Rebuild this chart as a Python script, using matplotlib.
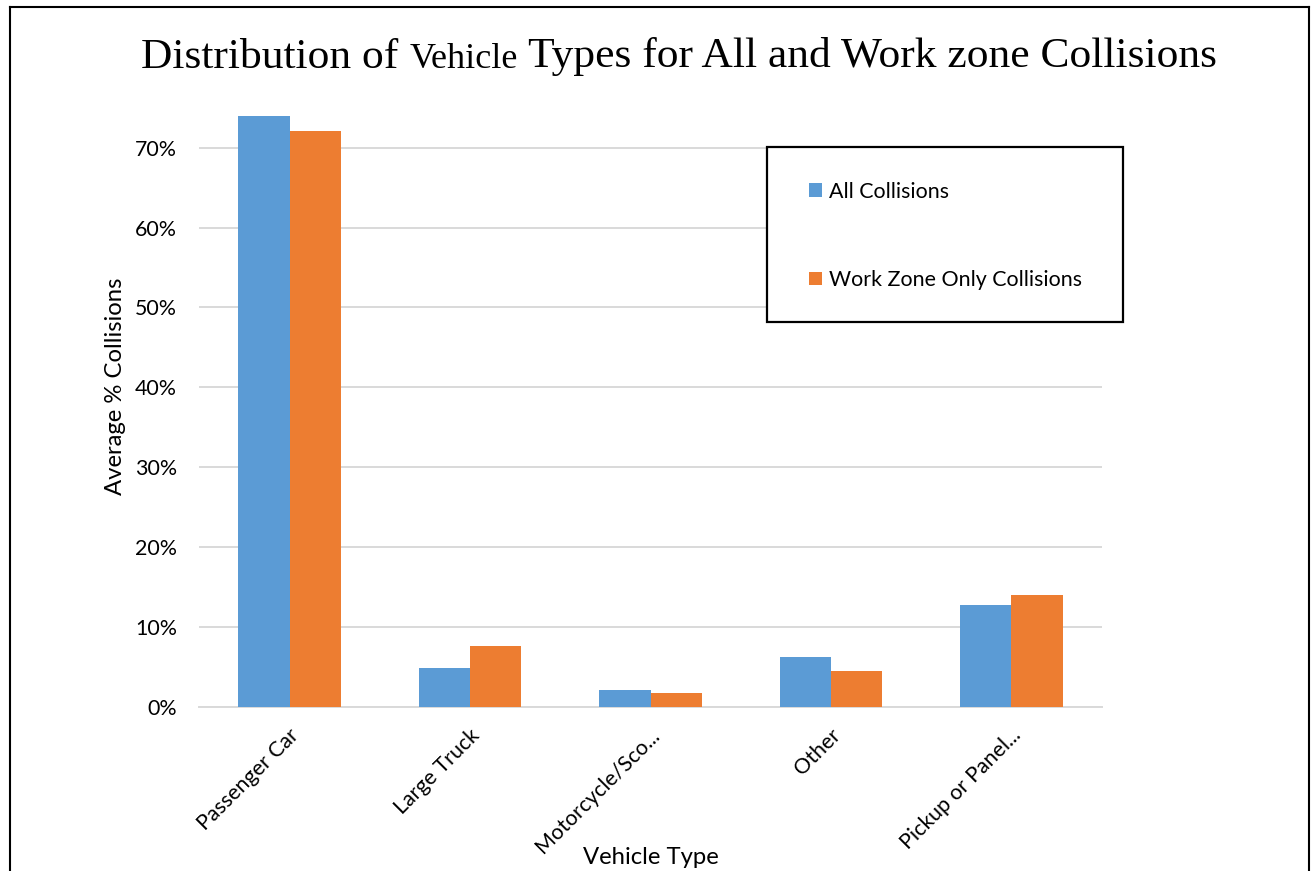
import matplotlib
matplotlib.use("Agg")
import matplotlib.pyplot as plt
from matplotlib.lines import Line2D
from matplotlib.patches import Rectangle
from matplotlib.ticker import PercentFormatter, FixedLocator
from matplotlib.transforms import ScaledTranslation
import numpy as np

# Chart data
categories = ["Passenger Car", "Large Truck", "Motorcycle/Sco...", "Other", "Pickup or Panel..."]
all_collisions = [74.0, 4.9, 2.1, 6.2, 12.7]
work_zone_collisions = [72.1, 7.6, 1.7, 4.5, 14.0]
series_labels = ["All Collisions", "Work Zone Only Collisions"]
y_ticks = [0, 10, 20, 30, 40, 50, 60, 70]

BLUE = "#5B9BD5"
ORANGE = "#ED7D31"
GRID = "#D9D9D9"
SANS = ["Lato", "DejaVu Sans"]
SERIF = ["Liberation Serif", "DejaVu Serif"]
TICK_FS = 15.4
AXIS_FS = 17.2

W, H = 1312, 871
fig = plt.figure(figsize=(W / 100, H / 100), dpi=100)
fig.patch.set_facecolor("white")

# plot area
left, right = 199.3 / W, 1101.7 / W
bottom, top = 1 - 706.7 / H, 1 - 107.8 / H
ax = fig.add_axes([left, bottom, right - left, top - bottom])

x = np.arange(len(categories))
bw = 0.2845
ax.bar(x - bw / 2, all_collisions, width=bw, color=BLUE, label=series_labels[0], zorder=3)
ax.bar(x + bw / 2, work_zone_collisions, width=bw, color=ORANGE, label=series_labels[1], zorder=3)

ax.set_xlim(-0.5, len(categories) - 0.5)
ax.set_ylim(0, 75)
ax.yaxis.set_major_locator(FixedLocator(y_ticks))
ax.yaxis.set_major_formatter(PercentFormatter(decimals=0))
ax.grid(axis="y", color=GRID, linewidth=1.4, zorder=0)
ax.set_axisbelow(True)
for s in ["top", "right", "left"]:
    ax.spines[s].set_visible(False)
ax.spines["bottom"].set_color(GRID)
ax.spines["bottom"].set_linewidth(1.4)
ax.tick_params(axis="both", length=0)
ax.tick_params(axis="y", pad=16.0)
ax.tick_params(axis="x", pad=18.3)

for lbl in ax.get_yticklabels():
    lbl.set_fontfamily(SANS)
    lbl.set_fontsize(TICK_FS)
    lbl.set_color("black")

ax.set_xticks(x)
ax.set_xticklabels(categories, rotation=45, ha="right", va="center",
                   rotation_mode="anchor", fontsize=TICK_FS, family=SANS)
shift = ScaledTranslation(6 / 100, 0, fig.dpi_scale_trans)
for lbl in ax.get_xticklabels():
    lbl.set_transform(lbl.get_transform() + shift)

ax.set_ylabel("Average % Collisions", fontsize=AXIS_FS, family=SANS, va="center")
ax.yaxis.set_label_coords(-0.0934, 0.5355)
ax.set_xlabel("Vehicle Type", fontsize=AXIS_FS, family=SANS, va="center")
ax.xaxis.set_label_coords(0.5, -0.251)

# legend box and entries
box = Rectangle((767 / W, 1 - 322 / H), 356 / W, 175 / H, transform=fig.transFigure,
                facecolor="white", edgecolor="black", linewidth=1.6, zorder=4)
fig.add_artist(box)
handles, labels = ax.get_legend_handles_labels()
leg = fig.legend(handles, labels, loc="upper left", bbox_to_anchor=(809 / W, 1 - 181.8 / H),
                 bbox_transform=fig.transFigure, borderaxespad=0, borderpad=0,
                 prop={"family": SANS, "size": TICK_FS}, frameon=False,
                 labelspacing=3.19, handlelength=0.62, handleheight=0.62,
                 handletextpad=0.33)
leg.set_zorder(5)

# outer frame of the chart
lw = 1.5
fig.add_artist(Line2D([10 / W, 10 / W], [0, 1 - 7 / H], transform=fig.transFigure,
                      color="black", linewidth=lw))
fig.add_artist(Line2D([10 / W, 1309 / W], [1 - 7 / H, 1 - 7 / H], transform=fig.transFigure,
                      color="black", linewidth=lw))
fig.add_artist(Line2D([1309 / W, 1309 / W], [0, 1 - 7 / H], transform=fig.transFigure,
                      color="black", linewidth=lw))

# title made of pieces with mixed sizes
pieces = [("Distribution of ", 31.3), ("Vehicle", 26), (" Types for All and Work zone Collisions", 31.3)]
renderer = fig.canvas.get_renderer()
texts = []
widths = []
base_y = 1 - 67.5 / H
for s, size in pieces:
    t = fig.text(0, base_y, s, fontsize=size, family=SERIF, va="baseline", ha="left")
    texts.append(t)
    widths.append(t.get_window_extent(renderer).width)
total = sum(widths)
cx = 679
xpos = cx - total / 2
for t, w in zip(texts, widths):
    t.set_x(xpos / W)
    xpos += w

fig.savefig("out.png", dpi=100, facecolor="white")
